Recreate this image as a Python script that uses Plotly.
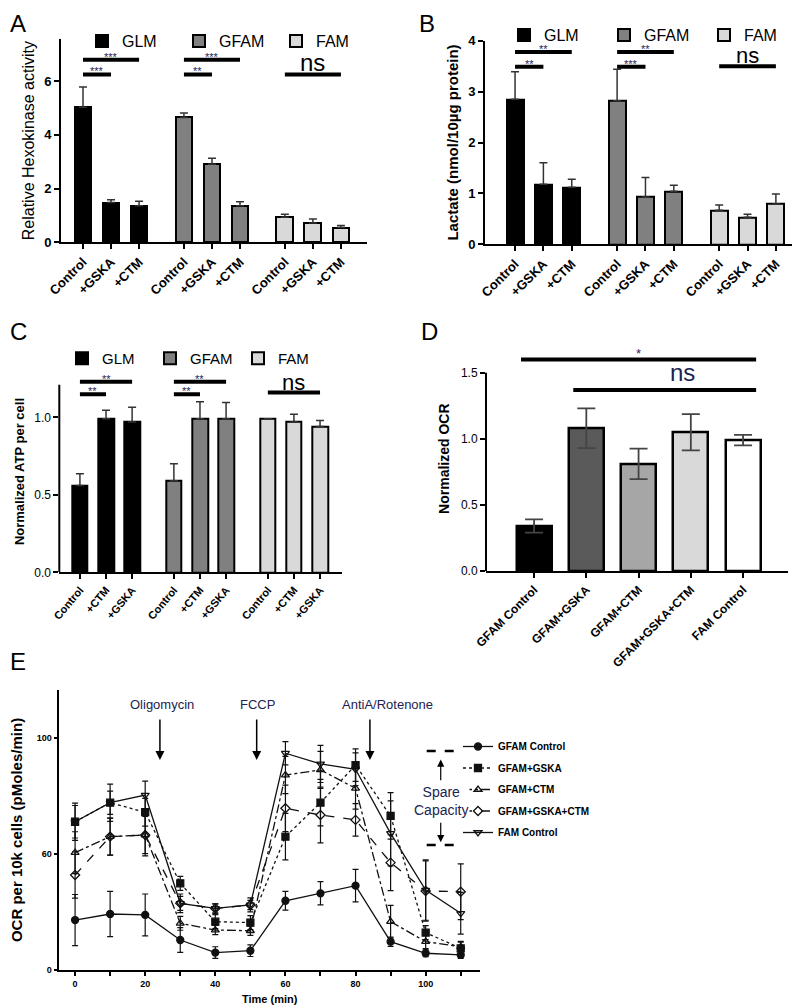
import plotly.graph_objects as go

# The page places the figure 8 px from the top-left corner, so the figure is
# sized to fill exactly the remaining 792 x 1000 px of the window.
OFF = 8
W, H = 800 - OFF, 1008 - OFF
FONT = "Liberation Sans, Arial, sans-serif"
STAR = "#23235a"


def fx(p):
    return (p - OFF) / W


def fy(p):
    return 1 - (p - OFF) / H


# ---------------- data ----------------
groups = ["GLM", "GFAM", "FAM"]
group_colors = ["#000000", "#808080", "#d9d9d9"]

# Panel A: Relative Hexokinase activity
a_treat = ["Control", "+GSKA", "+CTM"]
a_glm = [5.03, 1.48, 1.36]
a_gfam = [4.65, 2.91, 1.36]
a_fam = [0.93, 0.72, 0.55]
a_glm_err = [0.75, 0.10, 0.17]
a_gfam_err = [0.16, 0.22, 0.15]
a_fam_err = [0.11, 0.15, 0.08]
a_sig = [(0, 0, 2, 6.8, "***"), (0, 0, 1, 6.25, "***"),
         (1, 0, 2, 6.8, "***"), (1, 0, 1, 6.25, "**"),
         (2, 0, 2, 6.25, "ns")]

# Panel B: Lactate
b_treat = ["Control", "+GSKA", "+CTM"]
b_glm = [2.85, 1.18, 1.12]
b_gfam = [2.82, 0.93, 1.04]
b_fam = [0.67, 0.53, 0.79]
b_glm_err = [0.54, 0.42, 0.16]
b_gfam_err = [0.62, 0.38, 0.12]
b_fam_err = [0.10, 0.06, 0.20]
b_sig = [(0, 0, 2, 3.78, "**"), (0, 0, 1, 3.49, "**"),
         (1, 0, 2, 3.78, "**"), (1, 0, 1, 3.49, "***"),
         (2, 0, 2, 3.50, "ns")]

# Panel C: Normalized ATP per cell
c_treat = ["Control", "+CTM", "+GSKA"]
c_glm = [0.56, 0.99, 0.97]
c_gfam = [0.59, 0.99, 0.99]
c_fam = [0.99, 0.97, 0.94]
c_glm_err = [0.075, 0.055, 0.095]
c_gfam_err = [0.11, 0.11, 0.105]
c_fam_err = [0.0, 0.05, 0.04]
c_sig = [(0, 0, 2, 1.23, "**"), (0, 0, 1, 1.148, "**"),
         (1, 0, 2, 1.23, "**"), (1, 0, 1, 1.148, "**"),
         (2, 0, 2, 1.16, "ns")]

# Panel D: Normalized OCR
d_cats = ["GFAM Control", "GFAM+GSKA", "GFAM+CTM", "GFAM+GSKA+CTM", "FAM Control"]
d_vals = [0.34, 1.08, 0.81, 1.05, 0.99]
d_err = [0.05, 0.15, 0.115, 0.137, 0.04]
d_colors = ["#000000", "#5a5a5a", "#a6a6a6", "#d9d9d9", "#ffffff"]
d_sig = [(0, 4, 1.60, "*"), (1, 4, 1.37, "ns")]

# Panel E: OCR time course
e_time = [0, 10, 20, 30, 40, 50, 60, 70, 80, 90, 100, 110]
e_names = ["GFAM Control", "GFAM+GSKA", "GFAM+CTM", "GFAM+GSKA+CTM", "FAM Control"]
e_gfam_ctrl = [21.5, 24.1, 23.7, 12.9, 7.5, 8.3, 29.8, 33.0, 36.3, 12.2, 7.2, 6.5]
e_gfam_gska = [63.8, 72.0, 67.9, 37.3, 20.8, 20.4, 57.4, 72.0, 88.2, 66.3, 16.1, 9.3]
e_gfam_ctm = [50.5, 57.4, 58.1, 20.1, 17.2, 16.9, 83.9, 86.1, 78.2, 20.8, 12.2, 10.0]
e_gfam_gska_ctm = [40.9, 57.4, 58.1, 28.7, 26.5, 28.0, 69.6, 66.7, 64.6, 46.2, 34.0, 33.7]
e_fam_ctrl = [63.8, 72.0, 75.3, 28.7, 26.5, 28.0, 93.3, 88.7, 86.4, 58.8, 34.4, 24.4]
e_err_gfam_ctrl = [11, 9.7, 9, 5.3, 2.5, 2.5, 4, 5, 7, 2, 1.5, 1.5]
e_err_gfam_gska = [7, 5, 6, 3, 3, 3, 10, 10, 7, 10, 3, 3]
e_err_gfam_ctm = [9, 8, 8, 3, 2, 2, 8, 8, 9, 7, 3, 2]
e_err_gfam_gska_ctm = [10, 8, 9, 4, 2, 2, 10, 12, 7, 12, 13, 12]
e_err_fam_ctrl = [8, 8, 6, 3, 2, 3, 5, 8, 7, 14, 13, 9]
e_injections = [("Oligomycin", 24.2), ("FCCP", 51.8), ("AntiA/Rotenone", 84.1)]
e_yticks = [0, 50, 100]
e_yticktext = ["0", "60", "100"]

# ---------------- figure ----------------
fig = go.Figure()
GROUP_STEP = 3.6


def positions(ngroups, nper):
    return [[g * GROUP_STEP + i for i in range(nper)] for g in range(ngroups)]


def add_grouped(vals, errs, xa, ya, legend, err_w=4):
    pos = positions(3, 3)
    for gi, (v, e) in enumerate(zip(vals, errs)):
        fig.add_trace(go.Bar(
            x=pos[gi], y=v, width=0.6, name=groups[gi],
            marker=dict(color=group_colors[gi], line=dict(color="black", width=2)),
            error_y=dict(type="data", symmetric=False, array=e, arrayminus=[0] * len(e),
                         color="#333333", thickness=1.5, width=err_w),
            xaxis=xa, yaxis=ya, legend=legend, showlegend=True))
    return pos


pa = add_grouped([a_glm, a_gfam, a_fam], [a_glm_err, a_gfam_err, a_fam_err], "x", "y", "legend")
pb = add_grouped([b_glm, b_gfam, b_fam], [b_glm_err, b_gfam_err, b_fam_err], "x2", "y2", "legend2")
pc = add_grouped([c_glm, c_gfam, c_fam], [c_glm_err, c_gfam_err, c_fam_err], "x3", "y3", "legend3")

fig.add_trace(go.Bar(
    x=list(range(len(d_cats))), y=d_vals, width=0.67,
    marker=dict(color=d_colors, line=dict(color="black", width=2.5)),
    error_y=dict(type="data", array=d_err, color="#444444", thickness=1.8, width=9),
    xaxis="x4", yaxis="y4", showlegend=False))

e_series = [e_gfam_ctrl, e_gfam_gska, e_gfam_ctm, e_gfam_gska_ctm, e_fam_ctrl]
e_errs = [e_err_gfam_ctrl, e_err_gfam_gska, e_err_gfam_ctm, e_err_gfam_gska_ctm, e_err_fam_ctrl]
e_symbols = ["circle", "square", "triangle-up-open", "diamond-open", "triangle-down-open"]
e_dash = ["solid", "dot", "dashdot", "dash", "solid"]
for i in range(5):
    fig.add_trace(go.Scatter(
        x=e_time, y=e_series[i], name=e_names[i], mode="lines+markers",
        line=dict(color="#111111", width=1.3, dash=e_dash[i]),
        marker=dict(symbol=e_symbols[i], size=7, color="#111111",
                    line=dict(color="#111111", width=1.3)),
        error_y=dict(type="data", array=e_errs[i], color="#111111", thickness=1.2, width=3),
        xaxis="x5", yaxis="y5", legend="legend4", legendgroup=e_names[i]))

# ---------------- axes ----------------
common = dict(showgrid=False, zeroline=False, showline=True, linecolor="black",
              linewidth=2, ticks="outside", ticklen=5, tickwidth=2, tickcolor="black")
bold13 = dict(family=FONT, size=13, color="black", weight="bold")
bold11 = dict(family=FONT, size=11, color="black", weight="bold")


def flat(p):
    return [v for g in p for v in g]


layout = dict(
    width=W, height=H, margin=dict(l=0, r=0, t=0, b=0, autoexpand=False),
    paper_bgcolor="white", plot_bgcolor="white",
    font=dict(family=FONT, color="black"),
    bargap=0,
    # A
    xaxis=dict(common, domain=[fx(61), fx(367)], range=[-0.785, 10.13], anchor="y",
               tickvals=flat(pa), ticktext=a_treat * 3, tickangle=-45, tickfont=bold13),
    yaxis=dict(common, domain=[fy(242.3), fy(39)], range=[0, 7.57], anchor="x",
               tickvals=[0, 2, 4, 6], tickfont=bold13,
               title=dict(text="Relative Hexokinase activity", font=dict(size=16), standoff=6)),
    # B
    xaxis2=dict(common, domain=[fx(485), fx(798)], range=[-1.06, 9.98], anchor="y2",
                tickvals=flat(pb), ticktext=b_treat * 3, tickangle=-45, tickfont=bold13),
    yaxis2=dict(common, domain=[fy(244.3), fy(40.7)], range=[0, 4], anchor="x2",
                tickvals=[0, 1, 2, 3, 4], tickfont=bold13,
                title=dict(text="Lactate (nmol/10µg protein)",
                           font=dict(size=15, weight="bold"), standoff=6)),
    # C
    xaxis3=dict(common, domain=[fx(59.3), fx(341.7)], range=[-0.79, 10.03], anchor="y3",
                tickvals=flat(pc), ticktext=c_treat * 3, tickangle=-50, tickfont=bold11),
    yaxis3=dict(common, showline=False, domain=[fy(572.3), fy(572.3 - 1.3 * 155)],
                range=[0, 1.3], anchor="x3", tickvals=[0, 0.5, 1.0], tickformat=".1f",
                tickfont=dict(size=12),
                title=dict(text="Normalized ATP per cell",
                           font=dict(size=13, weight="bold"), standoff=6)),
    # D
    xaxis4=dict(common, domain=[fx(486), fx(788)], range=[-0.92, 4.86], anchor="y4",
                tickvals=list(range(len(d_cats))), ticktext=d_cats, tickangle=-45,
                tickfont=dict(family=FONT, size=12, color="black", weight="bold")),
    yaxis4=dict(common, showline=False, domain=[fy(571), fy(571 - 1.7 * 132.2)],
                range=[0, 1.7], anchor="x4", tickvals=[0, 0.5, 1.0, 1.5], tickformat=".1f",
                tickfont=dict(size=12),
                title=dict(text="Normalized OCR", font=dict(size=14, weight="bold"), standoff=8)),
    # E
    xaxis5=dict(common, linewidth=1.5, tickwidth=1.5, ticklen=4,
                domain=[fx(59.3), fx(480)], range=[-4.5, 115.5], anchor="y5",
                tickvals=list(range(0, 111, 10)),
                ticktext=[str(v) if v % 20 == 0 else "" for v in range(0, 111, 10)],
                tickfont=dict(size=9, weight="bold"),
                title=dict(text="Time (min)", font=dict(size=11, weight="bold"), standoff=8)),
    yaxis5=dict(common, linewidth=1.5, tickwidth=1.5, ticklen=4,
                domain=[fy(970), fy(690)], range=[0, 120.5], anchor="x5",
                tickvals=e_yticks, ticktext=e_yticktext, tickfont=dict(size=9, weight="bold"),
                title=dict(text="OCR per 10k cells (pMoles/min)",
                           font=dict(size=15, weight="bold"), standoff=10)),
    legend=dict(x=fx(82), y=fy(24), xanchor="left", yanchor="top", orientation="h",
                font=dict(size=16), entrywidth=52, entrywidthmode="pixels",
                bgcolor="rgba(0,0,0,0)", traceorder="normal"),
    legend2=dict(x=fx(504), y=fy(18), xanchor="left", yanchor="top", orientation="h",
                 font=dict(size=16), entrywidth=55, entrywidthmode="pixels",
                 bgcolor="rgba(0,0,0,0)", traceorder="normal"),
    legend3=dict(x=fx(62), y=fy(342), xanchor="left", yanchor="top", orientation="h",
                 font=dict(size=15), entrywidth=43, entrywidthmode="pixels",
                 bgcolor="rgba(0,0,0,0)", traceorder="normal"),
    legend4=dict(x=fx(458), y=fy(732), xanchor="left", yanchor="top",
                 font=dict(size=10, weight="bold"), tracegroupgap=2.5,
                 bgcolor="rgba(0,0,0,0)", traceorder="grouped", itemwidth=30),
)
fig.update_layout(**layout)

shapes = []
annotations = []

# panel letters
for letter, x, y in [("A", 8, 8), ("B", 417, 8), ("C", 8, 316), ("D", 419, 316), ("E", 8, 646)]:
    annotations.append(dict(text=letter, x=fx(x), y=fy(y), xref="paper", yref="paper",
                            xanchor="left", yanchor="top", showarrow=False,
                            font=dict(size=24, color="black")))


def add_sig(pos, sig, xa, ya, star_size, ns_size):
    for g, i, j, lvl, lab in sig:
        x0, x1 = pos[g][i], pos[g][j]
        shapes.append(dict(type="line", xref=xa, yref=ya, x0=x0, x1=x1, y0=lvl, y1=lvl,
                           line=dict(color="black", width=4)))
        is_ns = lab == "ns"
        annotations.append(dict(text=lab, x=(x0 + x1) / 2, y=lvl, xref=xa, yref=ya,
                                xanchor="center", yanchor="bottom", showarrow=False,
                                yshift=-4 if is_ns else -5,
                                font=dict(size=ns_size if is_ns else star_size,
                                          color="black" if is_ns else STAR)))


add_sig(pa, a_sig, "x", "y", 11, 24)
add_sig(pb, b_sig, "x2", "y2", 11, 22)
add_sig(pc, c_sig, "x3", "y3", 11, 22)

# manual y axis lines where significance bars exceed axis top
shapes.append(dict(type="line", xref="x3 domain", yref="y3", x0=0, x1=0, y0=0, y1=1.21,
                   line=dict(color="black", width=2)))
shapes.append(dict(type="line", xref="x4 domain", yref="y4", x0=0, x1=0, y0=0, y1=1.5,
                   line=dict(color="black", width=2)))

for i, j, lvl, lab in d_sig:
    shapes.append(dict(type="line", xref="x4", yref="y4", x0=i - 0.25, x1=j + 0.25,
                       y0=lvl, y1=lvl, line=dict(color="black", width=4)))
    is_ns = lab == "ns"
    annotations.append(dict(text=lab, x=(i + j) / 2 + (0.35 if is_ns else 0), y=lvl,
                            xref="x4", yref="y4", xanchor="center", yanchor="bottom",
                            showarrow=False, yshift=2 if is_ns else -4,
                            font=dict(size=24 if is_ns else 13,
                                      color="#1c2350" if is_ns else STAR)))

# Panel E annotations
label_x = {"Oligomycin": 24.8, "FCCP": 52.1, "AntiA/Rotenone": 89.2}
for name, t in e_injections:
    annotations.append(dict(text=name, x=label_x[name], y=114.1, xref="x5", yref="y5",
                            showarrow=False, font=dict(size=13, color="#1c2350")))
    annotations.append(dict(text="", x=t, y=90.4, ax=t, ay=108.5, axref="x5", ayref="y5",
                            xref="x5", yref="y5", showarrow=True, arrowhead=2,
                            arrowsize=1.2, arrowwidth=1.5, arrowcolor="black"))

shapes.append(dict(type="line", xref="x5", yref="y5", x0=100.3, x1=109.8, y0=94.3, y1=94.3,
                   line=dict(color="black", width=2.5, dash="dash")))
shapes.append(dict(type="line", xref="x5", yref="y5", x0=100.3, x1=109.8, y0=53.8, y1=53.8,
                   line=dict(color="black", width=2.5, dash="dash")))
annotations.append(dict(text="", x=104.3, y=90.6, ax=104.3, ay=81.0, axref="x5", ayref="y5",
                        xref="x5", yref="y5", showarrow=True, arrowhead=2, arrowsize=1.2,
                        arrowwidth=1.2, arrowcolor="black"))
annotations.append(dict(text="", x=104.3, y=55.0, ax=104.3, ay=64.0, axref="x5", ayref="y5",
                        xref="x5", yref="y5", showarrow=True, arrowhead=2, arrowsize=1.2,
                        arrowwidth=1.2, arrowcolor="black"))
annotations.append(dict(text="Spare<br>Capacity", x=104.3, y=72.6, xref="x5", yref="y5",
                        showarrow=False, bgcolor="white",
                        font=dict(size=14, color="#1c2350")))

fig.update_layout(shapes=shapes, annotations=annotations)
fig.write_html("out.html")
